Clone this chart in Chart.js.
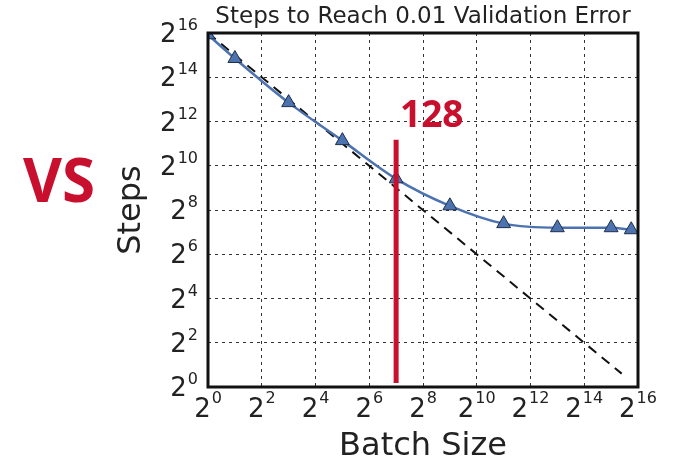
<!DOCTYPE html>
<html>
<head>
<meta charset="utf-8">
<script src="https://cdn.jsdelivr.net/npm/chart.js@4.4.1/dist/chart.umd.min.js"></script>
<style>
  html, body { margin: 0; padding: 0; background: #fff; }
  #wrap { width: 679px; height: 461px; }
</style>
</head>
<body>
<div id="wrap"><canvas id="stepsChart" width="679" height="461"></canvas></div>
<script>
// measured batch sizes and steps needed to reach 0.01 validation error
const batchSizes = [1, 2, 8, 32, 128, 512, 2048, 8192, 32768, 55000];
const steps = [62000, 29500, 7400, 2250, 680, 292, 167, 147, 147, 138];

// perfect scaling reference (dashed)
const perfectX = [1, 43000];
const perfectY = [65536, 1.52];

// red marker at batch size 128
const markerX = [128, 128];
const markerY = [1.13, 2320];

const tickValues = [1, 4, 16, 64, 256, 1024, 4096, 16384, 65536];

const RED = '#c8102e';
const BLUE = '#4c72b0';
const supFont = '16px "DejaVu Sans"';
const baseFont = '26px "DejaVu Sans"';

const pts = (xs, ys) => xs.map((x, i) => ({ x: x, y: ys[i] }));

const decorations = {
    id: 'decorations',
    afterDraw(chart) {
        const ctx = chart.ctx,
              area = chart.chartArea,
              xs = chart.scales.x,
              ys = chart.scales.y;
        ctx.save();

        // axes frame
        ctx.strokeStyle = '#111';
        ctx.lineWidth = 3;
        ctx.strokeRect(area.left, area.top, area.right - area.left, area.bottom - area.top);

        ctx.fillStyle = '#222';
        ctx.textBaseline = 'alphabetic';

        // x tick labels: 2 with exponent
        xs.ticks.forEach(t => {
            const px = xs.getPixelForValue(t.value),
                  exp = String(Math.round(Math.log2(t.value)));
            ctx.font = baseFont;
            const wb = ctx.measureText('2').width;
            ctx.font = supFont;
            const we = ctx.measureText(exp).width;
            const left = px - (wb + we + 1) / 2;
            ctx.textAlign = 'left';
            ctx.font = baseFont;
            ctx.fillText('2', left, area.bottom + 30);
            ctx.font = supFont;
            ctx.fillText(exp, left + wb + 1, area.bottom + 16);
        });

        // y tick labels, right aligned
        ys.ticks.forEach(t => {
            const py = ys.getPixelForValue(t.value),
                  exp = String(Math.round(Math.log2(t.value))),
                  right = area.left - 10;
            ctx.font = supFont;
            const we = ctx.measureText(exp).width;
            ctx.textAlign = 'right';
            ctx.fillText(exp, right, py - 3);
            ctx.font = baseFont;
            ctx.fillText('2', right - we - 1, py + 9);
        });

        // title
        ctx.textAlign = 'center';
        ctx.font = '23px "DejaVu Sans"';
        ctx.fillText('Steps to Reach 0.01 Validation Error', (area.left + area.right) / 2, 23);

        // axis titles
        ctx.font = '32px "DejaVu Sans"';
        ctx.fillText('Batch Size', (area.left + area.right) / 2, 455);
        ctx.save();
        ctx.translate(140, 210);
        ctx.rotate(-Math.PI / 2);
        ctx.fillText('Steps', 0, 0);
        ctx.restore();

        // annotations
        ctx.fillStyle = RED;
        ctx.textAlign = 'left';
        ctx.font = 'bold 37px "Open Sans"';
        ctx.fillText('128', 400, 127);
        ctx.font = 'bold 60px "Open Sans"';
        ctx.fillText('VS', 23, 202);

        ctx.restore();
    }
};

const powerTicks = scale => {
    scale.ticks = tickValues.map(v => ({ value: v }));
};

const axis = {
    type: 'logarithmic',
    min: 1,
    max: 65536,
    afterBuildTicks: powerTicks,
    ticks: { display: false },
    grid: { color: '#333', lineWidth: 1, drawTicks: false, tickLength: 0 },
    border: { display: false, dash: [3, 4] }
};

new Chart(document.getElementById('stepsChart').getContext('2d'), {
    type: 'line',
    data: {
        datasets: [{
            label: '128',
            data: pts(markerX, markerY),
            borderColor: RED,
            borderWidth: 5,
            pointRadius: 0
        }, {
            label: 'Steps',
            data: pts(batchSizes, steps),
            borderColor: BLUE,
            borderWidth: 2.5,
            cubicInterpolationMode: 'monotone',
            pointStyle: 'triangle',
            pointRadius: 8,
            pointBackgroundColor: BLUE,
            pointBorderColor: '#1f2f4a',
            pointBorderWidth: 1
        }, {
            label: 'Perfect scaling',
            data: pts(perfectX, perfectY),
            borderColor: '#111',
            borderWidth: 2,
            borderDash: [10, 7],
            pointRadius: 0
        }]
    },
    options: {
        responsive: false,
        animation: false,
        layout: { padding: { left: 208, right: 41, top: 33, bottom: 74 } },
        plugins: {
            legend: { display: false },
            tooltip: { enabled: false }
        },
        scales: {
            x: axis,
            y: axis
        }
    },
    plugins: [decorations]
});
</script>
</body>
</html>
